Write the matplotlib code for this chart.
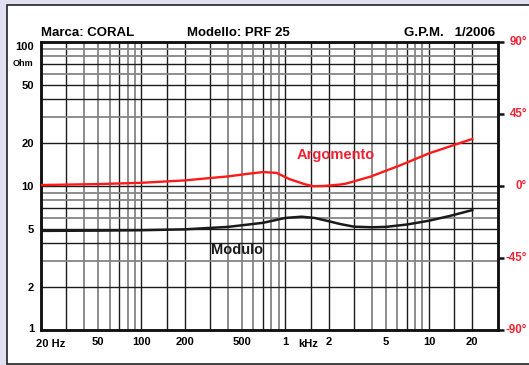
import matplotlib
matplotlib.use("Agg")
import matplotlib.pyplot as plt
from matplotlib.patches import Rectangle
from matplotlib.transforms import ScaledTranslation, blended_transform_factory

plt.rcParams['font.family'] = ['Liberation Sans', 'DejaVu Sans']
plt.rcParams['font.weight'] = 'bold'

# impedance modulus (Ohm) vs frequency (Hz)
mod_freq = [20, 50, 100, 200, 400, 700, 1000, 1300, 1600, 2000, 2400, 3000,
            4000, 5000, 7000, 10000, 14000, 20000]
mod_ohm = [4.88, 4.9, 4.93, 5.0, 5.2, 5.55, 6.0, 6.12, 6.0, 5.7, 5.45, 5.22,
           5.17, 5.2, 5.4, 5.74, 6.2, 6.8]

# phase (degrees) vs frequency (Hz)
ph_freq = [20, 50, 100, 200, 400, 570, 700, 870, 1070, 1380, 1570, 1830,
           2400, 2650, 3900, 6300, 10000, 20000]
ph_deg = [0.6, 1.2, 2.0, 3.5, 6.0, 7.8, 8.7, 8.2, 4.3, 1.0, -0.1, 0.0,
          0.9, 1.5, 5.8, 12.9, 20.4, 29.4]

x_ticks = [50, 100, 200, 500, 1000, 2000, 5000, 10000, 20000]
x_labels = ['50', '100', '200', '500', '1', '2', '5', '10', '20']
y_ticks = [100, 50, 20, 10, 5, 2, 1]
ph_ticks = [90, 45, 0, -45, -90]
ph_labels = ['90°', '45°', '0°', '-45°', '-90°']

W, H = 529, 365
fig = plt.figure(figsize=(W / 100, H / 100), dpi=100, facecolor='#e0e0f2')
fig.patches.append(Rectangle((7 / W, 1 / H), 1, (H - 6) / H, transform=fig.transFigure,
                             facecolor='white', edgecolor='#222222', lw=1.2, zorder=-10))

ax = fig.add_axes([41 / W, 1 - 330 / H, (498 - 41) / W, (330 - 42) / H])
ax.set_facecolor('white')
ax.set_xscale('log')
ax.set_yscale('log')
ax.set_xlim(20, 30200)
ax.set_ylim(1, 100)

# grid: some lines print dark, others grey
dark = '#1c1c1c'
grey = '#858585'
for dec in [10, 100, 1000, 10000]:
    for m in [1, 1.5, 2, 3, 4, 5, 6, 7, 8, 9]:
        f = m * dec
        if 20 < f <= 20000:
            if m in (1, 1.5, 2, 3, 7):
                ax.axvline(f, color=dark, lw=1.0, zorder=1)
            else:
                ax.axvline(f, color=grey, lw=1.3, zorder=1)
for dec in [1, 10]:
    for m in range(1, 10):
        v = m * dec
        if v <= 1:
            continue
        if m in (1, 2, 4, 5, 7):
            ax.axhline(v, color=dark, lw=1.0, zorder=1)
        else:
            ax.axhline(v, color=grey, lw=1.3, zorder=1)

for s in ax.spines.values():
    s.set_linewidth(1.8)
    s.set_color('#111111')

ax.plot(mod_freq, mod_ohm, color='#1a1a1a', lw=1.8, zorder=3)

ax.set_xticks(x_ticks)
ax.set_xticklabels(x_labels, fontsize=8, fontweight='bold')
ax.set_yticks(y_ticks)
ax.set_yticklabels([str(v) for v in y_ticks], fontsize=8, fontweight='bold')
ax.xaxis.set_minor_locator(matplotlib.ticker.NullLocator())
ax.yaxis.set_minor_locator(matplotlib.ticker.NullLocator())
ax.tick_params(axis='both', length=0, pad=5)
labs = ax.get_yticklabels()
labs[0].set_transform(labs[0].get_transform() + ScaledTranslation(0, -4 / 100, fig.dpi_scale_trans))
labs[-1].set_transform(labs[-1].get_transform() + ScaledTranslation(0, 2.5 / 100, fig.dpi_scale_trans))

ax.text(20, -0.03, '20 Hz', transform=ax.get_xaxis_transform() + ScaledTranslation(-5 / 100, 0, fig.dpi_scale_trans),
        ha='left', va='top', fontsize=8, fontweight='bold')
ax.text(1450, -0.03, 'kHz', transform=ax.get_xaxis_transform(),
        ha='center', va='top', fontsize=8, fontweight='bold')
fig.text(23 / W, 1 - 64 / H, 'Ohm', ha='center', va='center', fontsize=6.5, fontweight='bold')

ax2 = ax.twinx()
ax2.set_ylim(-90, 90)
ax2.plot(ph_freq, ph_deg, color='#ff1a1a', lw=1.7, zorder=3)
ax2.set_yticks(ph_ticks)
ax2.set_yticklabels([])
ax2.tick_params(axis='y', length=4, width=1.8, color='#111111', direction='out')
for s in ax2.spines.values():
    s.set_linewidth(1.8)
    s.set_color('#111111')
for v, t in zip(ph_ticks, ph_labels):
    ax2.text(527 / W, v, t, transform=blended_transform_factory(fig.transFigure, ax2.transData),
             ha='right', va='center', fontsize=8.3, fontweight='bold', color='#ee2233', clip_on=False)

ax2.text(2259, 19.4, 'Argomento', color='#ee2233', fontsize=10.5, fontweight='bold', ha='center', va='center')
ax.text(462, 3.6, 'Modulo', color='#1a1a1a', fontsize=10.5, fontweight='bold', ha='center', va='center')

fig.text(41 / W, 1 - 36 / H, 'Marca: CORAL', fontsize=9.5, fontweight='bold', va='baseline', ha='left')
fig.text(187 / W, 1 - 36 / H, 'Modello: PRF 25', fontsize=9.5, fontweight='bold', va='baseline', ha='left')
fig.text(495 / W, 1 - 36 / H, 'G.P.M.   1/2006', fontsize=9.5, fontweight='bold', va='baseline', ha='right')

fig.savefig('out.png', dpi=100, facecolor=fig.get_facecolor())
